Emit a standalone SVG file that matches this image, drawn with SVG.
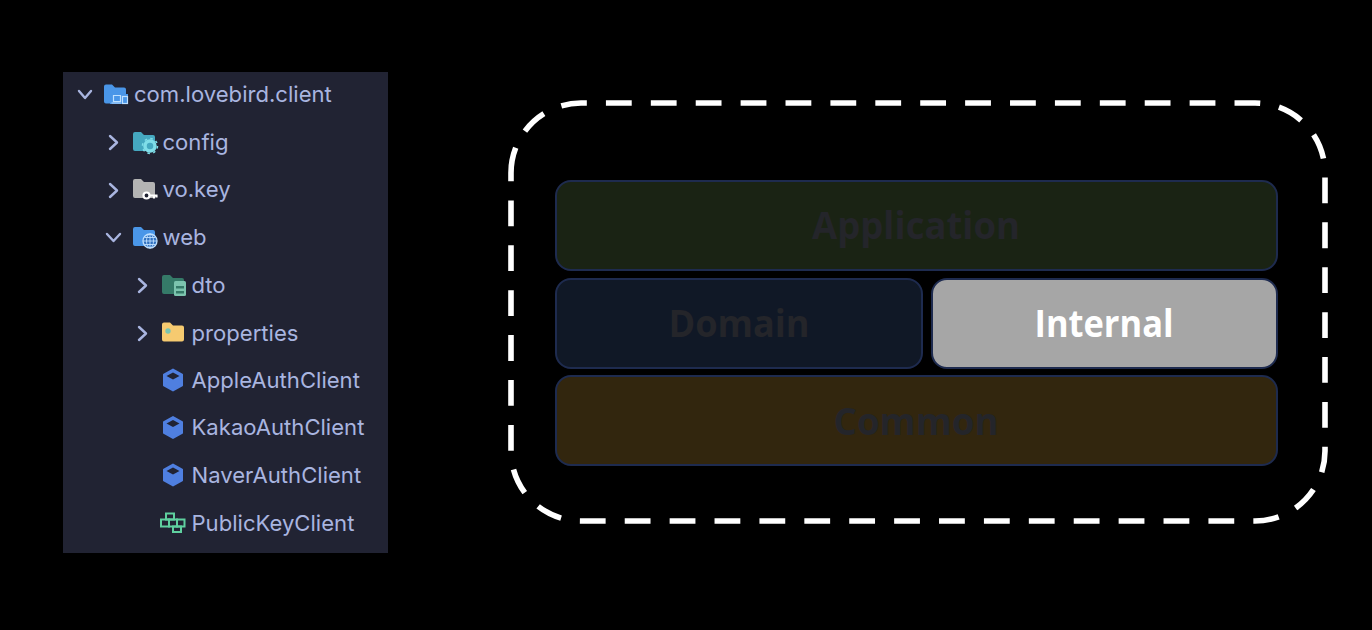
<svg xmlns="http://www.w3.org/2000/svg" width="1372" height="630" viewBox="0 0 1372 630">
<style>
.t{font-family:Inter,"Noto Sans",sans-serif;font-size:22.1px;fill:#a9b5e0}
.c{fill:none;stroke:#a9b5e0;stroke-width:2.4;stroke-linecap:round;stroke-linejoin:round}
.b{stroke:#1e2b4f;stroke-width:2}
.l{font-family:"Open Sans","Noto Sans",sans-serif;font-size:37px;font-weight:700;text-anchor:middle;fill:#24252a}
.k{fill:none;stroke:#5fd09f;stroke-width:2}
</style>
<defs>
<g id="cube"><path d="M0-10.500L9-5.500V5.500L0 10.500-9 5.500V-5.500Z" fill="#4f7fe0" stroke="#4f7fe0" stroke-width="2" stroke-linejoin="round"/><path d="M-6.500-4L0-7.500 6.500-4 0-.5Z" fill="#212333"/></g>
<path id="folder" d="M-11-8Q-11-10-9-10H-3L0-7H9Q11-7 11-5V7Q11 9 9 9H-9Q-11 9-11 7Z"/>
</defs>
<rect x="0" y="0" width="1372" height="630" fill="#000"/>
<g id="tree">
<rect x="63" y="72" width="325" height="481" fill="#212333"/>
<g id="row-client"><path class="c" d="M79 91L85 98 91 91"/><use href="#folder" x="115" y="94.500" fill="#4a96e8"/><path d="M110 94H128V104H110Z" fill="#4a96e8"/><path d="M113.500 95.500H120.500V101.500H113.500ZM111.500 103H121" fill="none" stroke="#bfe0ff" stroke-width="1.200"/><rect x="122.500" y="96.500" width="5" height="7" fill="#4a96e8" stroke="#bfe0ff" stroke-width="1.200"/><text class="t" x="134" y="101.800">com.lovebird.client</text></g>
<g id="row-config"><path class="c" d="M110 136L117 142.500 110 149"/><use href="#folder" x="144" y="142" fill="#45a8c0"/><circle cx="150" cy="146" r="5" fill="none" stroke="#7fdde8" stroke-width="3.500"/><circle cx="150" cy="146" r="7.500" fill="none" stroke="#7fdde8" stroke-width="1.500" stroke-dasharray="2.500 3.400"/><text class="t" x="162.500" y="149.800">config</text></g>
<g id="row-vokey"><path class="c" d="M110 184L117 190.500 110 197"/><use href="#folder" x="144" y="189" fill="#b4b4b4"/><circle cx="146.500" cy="195.500" r="3" fill="#212333" stroke="#fff" stroke-width="2.200"/><path d="M150 195.500H157.500M154 195.500V198.500M156.500 195.500V197.500" stroke="#fff" stroke-width="2.200" fill="none"/><text class="t" x="162.500" y="197.300">vo.key</text></g>
<g id="row-web"><path class="c" d="M107 234L113.500 241 120 234"/><use href="#folder" x="144" y="237" fill="#4a96e8"/><circle cx="150" cy="241" r="7" fill="#2f70c0" stroke="#bfe0ff" stroke-width="1.300"/><path d="M143 241H157M150 234V248M145 237.500H155M145 244.500H155" stroke="#bfe0ff" stroke-width=".9" fill="none"/><ellipse cx="150" cy="241" rx="3.500" ry="7" fill="none" stroke="#bfe0ff" stroke-width=".9"/><text class="t" x="162.500" y="244.800">web</text></g>
<g id="row-dto"><path class="c" d="M139 279L146 285.500 139 292"/><use href="#folder" x="173" y="285" fill="#357a68"/><rect x="174" y="281" width="12" height="15" rx="1.500" fill="#7cc4ae"/><path d="M176 286H184V288.500H176ZM176 291H184V293.500H176Z" fill="#357a68"/><text class="t" x="191.500" y="292.800">dto</text></g>
<g id="row-properties"><path class="c" d="M139 327L146 333.500 139 340"/><use href="#folder" x="173" y="332.500" fill="#f6ca70"/><circle cx="168" cy="331" r="2.700" fill="#79c4b0"/><text class="t" x="191.500" y="340.500">properties</text></g>
<g id="row-apple"><use href="#cube" x="173" y="380"/><text class="t" x="191.500" y="387.800">AppleAuthClient</text></g>
<g id="row-kakao"><use href="#cube" x="173" y="427.500"/><text class="t" x="191.500" y="435.300">KakaoAuthClient</text></g>
<g id="row-naver"><use href="#cube" x="173" y="475"/><text class="t" x="191.500" y="482.800">NaverAuthClient</text></g>
<g id="row-publickey"><rect class="k" x="161" y="519.500" width="8" height="7"/><rect class="k" x="169" y="519.500" width="8" height="7"/><rect class="k" x="177" y="519.500" width="7.500" height="7"/><rect class="k" x="166" y="513.500" width="8" height="6"/><rect class="k" x="173" y="526.500" width="8" height="5.500"/><text class="t" x="191.500" y="530.800">PublicKeyClient</text></g>
</g>
<g id="connectors"></g>
<g id="boundary"><path d="M511 173A70 70 0 0 1 581 103H1255A70 70 0 0 1 1325 173V451A70 70 0 0 1 1255 521H581A70 70 0 0 1 511 451Z" fill="none" stroke="#fff" stroke-width="5.600" stroke-dasharray="25.800 19.100"/></g>
<g id="application"><rect class="b" x="556" y="181" width="721" height="89" rx="15" fill="#1a2314"/><text class="l" x="916" y="239" textLength="208" lengthAdjust="spacingAndGlyphs">Application</text></g>
<g id="domain"><rect class="b" x="556" y="279" width="366" height="89" rx="15" fill="#101826"/><text class="l" x="739" y="337" textLength="141" lengthAdjust="spacingAndGlyphs">Domain</text></g>
<g id="internal"><rect class="b" x="932" y="279" width="345" height="89" rx="15" fill="#a6a6a6"/><text class="l" x="1104" y="337" style="fill:#fff" textLength="139" lengthAdjust="spacingAndGlyphs">Internal</text></g>
<g id="common"><rect class="b" x="556" y="376" width="721" height="89" rx="15" fill="#32260e"/><text class="l" x="916" y="435" textLength="165" lengthAdjust="spacingAndGlyphs">Common</text></g>
</svg>
